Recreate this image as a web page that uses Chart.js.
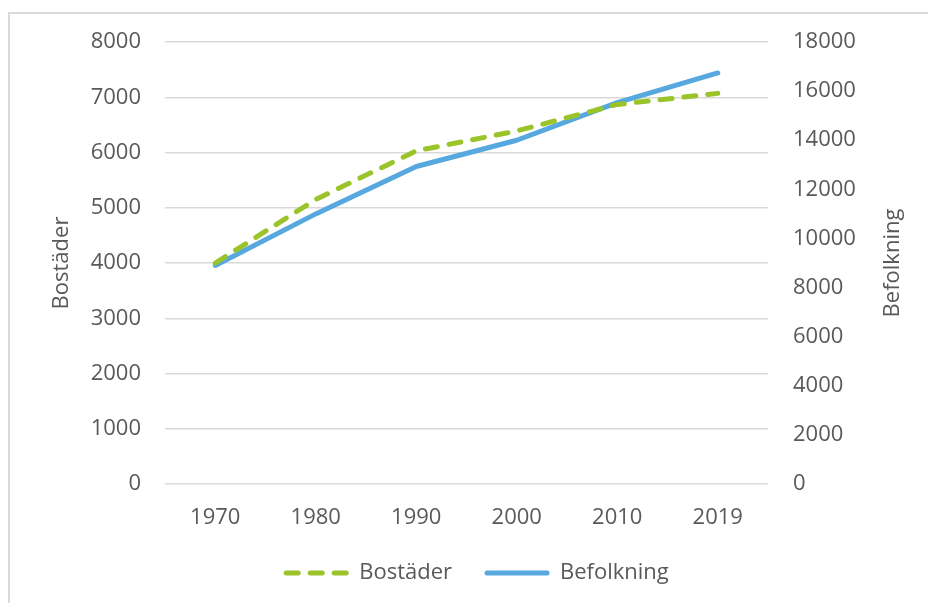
<!DOCTYPE html>
<html>
<head>
<meta charset="utf-8">
<script src="https://cdn.jsdelivr.net/npm/chart.js@4/dist/chart.umd.min.js"></script>
<style>
  html, body { margin: 0; padding: 0; background: #ffffff; }
  #wrap { position: relative; width: 928px; height: 603px; overflow: hidden; }
  #frame { position: absolute; left: 8px; top: 12px; width: 1200px; height: 1200px;
           border-left: 2px solid #dadada; border-top: 2px solid #dadada; }
  #c { position: absolute; left: 0; top: 0; }
</style>
</head>
<body>
<div id="wrap">
  <div id="frame"></div>
  <canvas id="c" width="928" height="603"></canvas>
</div>
<script>
// ---- data ----
const years = ['1970', '1980', '1990', '2000', '2010', '2019'];
const bostader = [4000, 5150, 6030, 6390, 6870, 7070];
const befolkning = [8900, 11000, 12930, 14000, 15530, 16740];
const seriesNames = ['Bostäder', 'Befolkning'];
const leftAxisTitle = 'Bostäder';
const rightAxisTitle = 'Befolkning';

const TEXT = '#595959';
const FONT = 'Open Sans';
const GREEN = '#9bc42a';
const BLUE = '#56a8df';
const FS = 22;

const legendPlugin = {
  id: 'customLegend',
  afterDraw(chart, args, opts) {
    const ctx = chart.ctx;
    const ds = chart.data.datasets;
    ctx.save();
    ctx.font = opts.fontSize + 'px "' + FONT + '"';
    const items = ds.map(d => ({ d, w: ctx.measureText(d.label).width }));
    const lineLen = opts.lineLen, gap = opts.gap, itemGap = opts.itemGap;
    let total = 0;
    items.forEach((it, i) => { total += lineLen + gap + it.w + (i < items.length - 1 ? itemGap : 0); });
    let x = opts.centerX - total / 2;
    const y = opts.y;
    items.forEach(it => {
      ctx.beginPath();
      ctx.strokeStyle = it.d.borderColor;
      ctx.lineWidth = it.d.borderWidth;
      ctx.lineCap = 'round';
      ctx.setLineDash(it.d.borderDash || []);
      ctx.moveTo(x + 3, y);
      ctx.lineTo(x + lineLen - 3, y);
      ctx.stroke();
      ctx.setLineDash([]);
      ctx.fillStyle = TEXT;
      ctx.textBaseline = 'middle';
      ctx.textAlign = 'left';
      ctx.fillText(it.d.label, x + lineLen + gap, y);
      x += lineLen + gap + it.w + itemGap;
    });
    // right axis title, rotated to read bottom-to-top like the left one
    const ca = chart.chartArea;
    ctx.translate(opts.rightTitleX, (ca.top + ca.bottom) / 2);
    ctx.rotate(-Math.PI / 2);
    ctx.textAlign = 'center';
    ctx.textBaseline = 'middle';
    ctx.fillStyle = TEXT;
    ctx.fillText(rightAxisTitle, 0, 0);
    ctx.restore();
  }
};

const plain = v => String(v);

new Chart(document.getElementById('c'), {
  type: 'line',
  data: {
    labels: years,
    datasets: [
      {
        label: seriesNames[0], data: bostader, yAxisID: 'y',
        borderColor: GREEN, backgroundColor: GREEN, borderWidth: 5,
        borderDash: [12, 12], borderCapStyle: 'round', borderJoinStyle: 'round',
        pointRadius: 0, tension: 0, fill: false
      },
      {
        label: seriesNames[1], data: befolkning, yAxisID: 'y1',
        borderColor: BLUE, backgroundColor: BLUE, borderWidth: 5,
        borderCapStyle: 'round', borderJoinStyle: 'round',
        pointRadius: 0, tension: 0, fill: false
      }
    ]
  },
  plugins: [legendPlugin],
  options: {
    responsive: false,
    animation: false,
    events: [],
    layout: { padding: { left: 0, right: 10, top: 42, bottom: 60 } },
    plugins: {
      legend: { display: false },
      tooltip: { enabled: false },
      customLegend: { fontSize: FS, lineLen: 66, gap: 10, itemGap: 32, centerX: 476, y: 573, rightTitleX: 893 }
    },
    scales: {
      x: {
        type: 'category', offset: true,
        grid: { display: false, drawTicks: false },
        border: { display: false },
        ticks: { color: TEXT, font: { family: FONT, size: FS }, padding: 21, maxRotation: 0 },
        afterFit(s) { s.height = 59; }
      },
      y: {
        position: 'left', min: 0, max: 8000,
        ticks: { stepSize: 1000, color: TEXT, font: { family: FONT, size: FS }, padding: 24, callback: plain },
        grid: { color: '#d9d9d9', lineWidth: 1.5, drawTicks: false },
        border: { display: false },
        title: { display: true, text: leftAxisTitle, color: TEXT, font: { family: FONT, size: FS }, padding: { top: 49, bottom: 0 } },
        afterFit(s) { s.width = 165; }
      },
      y1: {
        position: 'right', min: 0, max: 18000,
        ticks: { stepSize: 2000, color: TEXT, font: { family: FONT, size: FS }, padding: 25, callback: plain },
        grid: { display: false, drawTicks: false },
        border: { display: false },
        title: { display: false },
        afterFit(s) { s.width = 918 - 768; }
      }
    }
  }
});
</script>
</body>
</html>
